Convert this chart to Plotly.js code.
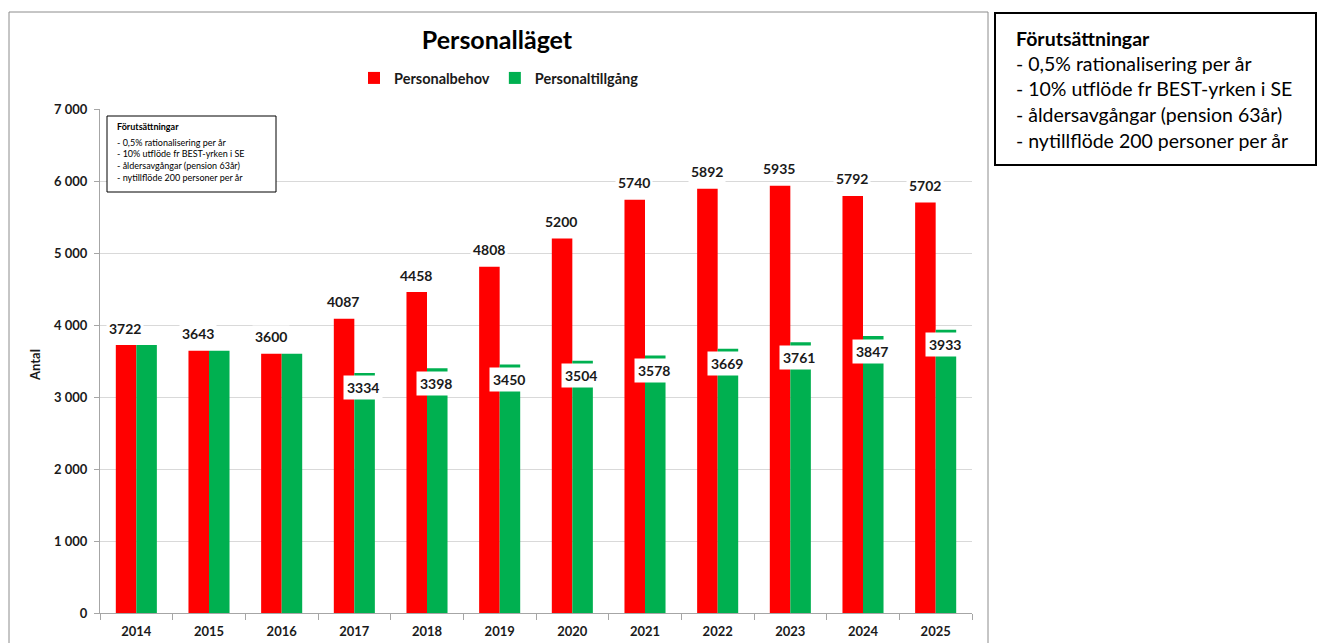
<!DOCTYPE html>
<html>
<head>
<meta charset="utf-8">
<script src="https://cdn.plot.ly/plotly-3.0.1.min.js"></script>
<style>
  html, body { margin: 0; padding: 0; background: #fff; }
  #myPlot { width: 1318px; height: 643px; }
</style>
</head>
<body>
<div id="myPlot"></div>
<script>
const years = ["2014", "2015", "2016", "2017", "2018", "2019", "2020", "2021", "2022", "2023", "2024", "2025"];
const personalbehov = [3722, 3643, 3600, 4087, 4458, 4808, 5200, 5740, 5892, 5935, 5792, 5702];
const personaltillgang = [3722, 3643, 3600, 3334, 3398, 3450, 3504, 3578, 3669, 3761, 3847, 3933];
const noteTitle = "Förutsättningar";
const noteLines = [
  "- 0,5% rationalisering per år",
  "- 10% utflöde fr BEST-yrken i SE",
  "- åldersavgångar (pension 63år)",
  "- nytillflöde 200 personer per år",
];

const FONT = "Lato, 'Open Sans', sans-serif";

// pixel -> paper helpers (plot area 100..972 x, 109..613 y)
const px = (x) => (x - 100) / 872;
const py = (y) => (613 - y) / 504;

const data = [
  {
    x: years,
    y: personalbehov,
    name: "Personalbehov",
    type: "bar",
    marker: { color: "#ff0000" },
    hoverinfo: "y",
  },
  {
    x: years,
    y: personaltillgang,
    name: "Personaltillgång",
    type: "bar",
    marker: { color: "#00b050" },
    hoverinfo: "y",
  },
];

const annotations = [];

// red labels above bars (x as category index)
years.forEach((yr, i) => {
  annotations.push({
    x: i, y: personalbehov[i], xref: "x", yref: "y",
    text: String(personalbehov[i]),
    showarrow: false, xshift: -11, yshift: 17,
    yanchor: "middle",
    bgcolor: "#ffffff", borderpad: 2,
    font: { family: FONT, size: 14, weight: "bold", color: "#1a1a1a" },
  });
});

// green labels just below the bar top (only where it differs from the red)
years.forEach((yr, i) => {
  if (personaltillgang[i] === personalbehov[i]) return;
  annotations.push({
    x: i, y: personaltillgang[i], xref: "x", yref: "y",
    text: String(personaltillgang[i]),
    showarrow: false, xshift: 9, yshift: -15,
    yanchor: "middle",
    bgcolor: "#ffffff", borderpad: 3,
    font: { family: FONT, size: 14, weight: "bold", color: "#1a1a1a" },
  });
});

// y axis title
annotations.push({
  x: px(35), y: py(365), xref: "paper", yref: "paper",
  xanchor: "center", yanchor: "middle",
  text: "Antal", textangle: -90, showarrow: false,
  font: { family: FONT, size: 13, weight: "bold", color: "#1a1a1a" },
});

// small note box inside the chart
const smallY = [126.5, 142, 153.8, 165.5, 177];
[noteTitle].concat(noteLines).forEach((t, i) => {
  annotations.push({
    x: px(115), y: py(smallY[i]), xref: "paper", yref: "paper",
    xanchor: "left", yanchor: "middle", showarrow: false,
    text: t,
    font: { family: FONT, size: 9, weight: i === 0 ? "bold" : "normal", color: "#000" },
  });
});

// big note box on the right
[noteTitle].concat(noteLines).forEach((t, i) => {
  annotations.push({
    x: px(1014), y: py(38 + i * 25.5), xref: "paper", yref: "paper",
    xanchor: "left", yanchor: "middle", showarrow: false,
    text: t,
    font: { family: FONT, size: 19.5, weight: i === 0 ? "bold" : "normal", color: "#000" },
  });
});

const shapes = [
  // chart frame
  { type: "rect", xref: "paper", yref: "paper", x0: px(9), x1: px(988), y0: py(660), y1: py(12),
    line: { color: "#8c8c8c", width: 1 }, layer: "below" },
  // inner note box
  { type: "rect", xref: "paper", yref: "paper", x0: px(107), x1: px(276), y0: py(192), y1: py(116),
    line: { color: "#000", width: 1 }, fillcolor: "#fff", layer: "above" },
  // right note box
  { type: "rect", xref: "paper", yref: "paper", x0: px(995), x1: px(1316), y0: py(165), y1: py(13),
    line: { color: "#000", width: 2 } },
];

const layout = {
  width: 1318,
  height: 643,
  margin: { l: 100, r: 346, t: 109, b: 30 },
  paper_bgcolor: "#fff",
  plot_bgcolor: "#fff",
  separators: ", ",
  title: {
    text: "Personalläget",
    x: px(497), xref: "paper", xanchor: "center",
    y: 1 - 40 / 643, yanchor: "middle",
    font: { family: FONT, size: 25, weight: "bold", color: "#000" },
  },
  showlegend: true,
  legend: {
    orientation: "h",
    x: px(499), xanchor: "center",
    y: py(78), yanchor: "middle",
    font: { family: FONT, size: 14.5, weight: "bold", color: "#1a1a1a" },
    itemwidth: 30,
    traceorder: "normal",
  },
  barmode: "group",
  bargap: 0.435,
  bargroupgap: 0,
  xaxis: {
    type: "category",
    range: [-0.5, years.length - 0.5],
    autorange: false,
    showline: true, linecolor: "#a6a6a6", linewidth: 1,
    ticks: "outside", tickson: "boundaries", ticklen: 6, tickcolor: "#a6a6a6",
    ticklabelstandoff: 6,
    showgrid: false,
    tickfont: { family: FONT, size: 13, weight: "bold", color: "#1a1a1a" },
  },
  yaxis: {
    range: [0, 7000],
    autorange: false,
    dtick: 1000,
    tickformat: ",d",
    showline: true, linecolor: "#a6a6a6", linewidth: 1,
    ticks: "outside", ticklen: 5, tickcolor: "#a6a6a6",
    ticklabelstandoff: 4,
    showgrid: true, gridcolor: "#d9d9d9", gridwidth: 1,
    zeroline: false,
    tickfont: { family: FONT, size: 13, weight: "bold", color: "#1a1a1a" },
  },
  annotations: annotations,
  shapes: shapes,
};

Plotly.newPlot("myPlot", data, layout, { displayModeBar: false, staticPlot: true });
</script>
</body>
</html>
